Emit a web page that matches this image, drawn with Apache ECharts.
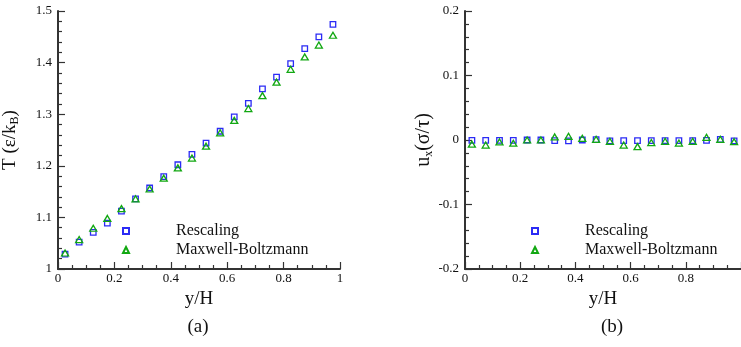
<!DOCTYPE html>
<html>
<head>
<meta charset="utf-8">
<script src="https://cdn.jsdelivr.net/npm/echarts@6/dist/echarts.min.js"></script>
<style>
  html, body { margin: 0; padding: 0; background: #fff; }
  #chart { width: 741px; height: 347px; }
</style>
</head>
<body>
<div id="chart"></div>
<script>
// Bin centres across the channel height
const yOverH = [0.025, 0.075, 0.125, 0.175, 0.225, 0.275, 0.325, 0.375, 0.425, 0.475,
                0.525, 0.575, 0.625, 0.675, 0.725, 0.775, 0.825, 0.875, 0.925, 0.975];

// (a) temperature profile T (ε/k_B)
const tempRescaling = [1.029, 1.052, 1.071, 1.089, 1.112, 1.136, 1.157, 1.179, 1.202, 1.222,
                       1.244, 1.267, 1.295, 1.321, 1.349, 1.372, 1.398, 1.427, 1.450, 1.474];
const tempMaxwell   = [1.031, 1.057, 1.079, 1.098, 1.117, 1.136, 1.155, 1.176, 1.196, 1.215,
                       1.238, 1.264, 1.288, 1.311, 1.336, 1.362, 1.387, 1.411, 1.434, 1.453];

// (b) streamwise velocity u_x (σ/τ)
const velRescaling = [-0.0005, -0.0005, -0.0005, -0.0005, 0.0, 0.0, -0.001, -0.0015, 0.0, 0.0005,
                      -0.0015, -0.001, -0.001, -0.001, -0.001, -0.001, -0.001, -0.0005, 0.001, -0.0015];
const velMaxwell   = [-0.0065, -0.0078, -0.003, -0.005, 0.0, 0.0, 0.0047, 0.0057, 0.0026, 0.001,
                      -0.002, -0.0078, -0.0103, -0.004, -0.002, -0.0047, -0.002, 0.0041, 0.001, -0.0026];

const seriesNames = ['Rescaling', 'Maxwell-Boltzmann'];
const xTicks = { min: 0, max: 1, interval: 0.2 };
const tempTicks = { min: 1.0, max: 1.5, interval: 0.1 };
const velTicks = { min: -0.2, max: 0.2, interval: 0.1 };

const SERIF = "'Liberation Serif', 'Times New Roman', serif";
const AXIS_COLOR = '#333';
const BLUE = '#2b2bf5';
const GREEN = '#12a812';

function axis(ticks, minorSplit, extra) {
  return Object.assign({
    type: 'value',
    min: ticks.min,
    max: ticks.max,
    interval: ticks.interval,
    axisLine: { show: true, onZero: false, lineStyle: { color: AXIS_COLOR, width: 2 } },
    axisTick: { show: true, inside: true, length: 7, lineStyle: { color: AXIS_COLOR, width: 1.2 } },
    minorTick: { show: true, splitNumber: minorSplit, length: 4, lineStyle: { color: AXIS_COLOR, width: 1.2 } },
    splitLine: { show: false },
    axisLabel: { fontFamily: SERIF, fontSize: 13, color: '#111', margin: 6 },
    nameLocation: 'middle',
    nameTextStyle: { fontFamily: SERIF, fontSize: 19, color: '#111' }
  }, extra || {});
}

function pairs(values) {
  return yOverH.map((x, i) => [x, values[i]]);
}

function scatter(name, values, idx, isSquare) {
  return {
    name: name,
    type: 'scatter',
    xAxisIndex: idx,
    yAxisIndex: idx,
    data: pairs(values),
    symbol: isSquare ? 'rect' : 'triangle',
    symbolSize: isSquare ? [5.5, 5.5] : [7, 6],
    itemStyle: {
      color: 'rgba(255,255,255,0)',
      borderColor: isSquare ? BLUE : GREEN,
      borderWidth: 1.3,
      opacity: 1
    },
    emphasis: { disabled: true },
    z: isSquare ? 2 : 3
  };
}

function legend(left) {
  return {
    data: seriesNames,
    orient: 'vertical',
    left: left,
    top: 218,
    itemWidth: 6,
    itemHeight: 6,
    itemGap: 3,
    selectedMode: false,
    textStyle: { fontFamily: SERIF, fontSize: 16, color: '#111', padding: [0, 0, 0, 42] }
  };
}

const xLabel = { fontFamily: SERIF, fontSize: 13, color: '#111', margin: 3 };

const chart = echarts.init(document.getElementById('chart'), null, { renderer: 'canvas' });

chart.setOption({
  animation: false,
  backgroundColor: '#fff',
  grid: [
    { left: 56, top: 11, width: 284, height: 258 },
    { left: 465, top: 11, width: 280, height: 258 }
  ],
  xAxis: [
    axis(xTicks, 4, { gridIndex: 0, name: 'y/H', nameGap: 13, axisLabel: xLabel }),
    axis(xTicks, 4, { gridIndex: 1, name: 'y/H', nameGap: 13, axisLabel: Object.assign({ showMaxLabel: false }, xLabel) })
  ],
  yAxis: [
    axis(tempTicks, 5, {
      gridIndex: 0,
      name: 'T (ε/k{s|B})',
      nameGap: 37,
      nameTextStyle: {
        fontFamily: SERIF, fontSize: 19, color: '#111',
        rich: { s: { fontFamily: SERIF, fontSize: 12, color: '#111', padding: [9, 0, 0, 0] } }
      }
    }),
    axis(velTicks, 5, {
      gridIndex: 1,
      name: 'u{s|x}(σ/τ)',
      nameGap: 26,
      nameTextStyle: {
        fontFamily: SERIF, fontSize: 20, color: '#111',
        rich: { s: { fontFamily: SERIF, fontSize: 12, color: '#111', padding: [9, 0, 0, 0] } }
      }
    })
  ],
  legend: [legend(117), legend(526)],
  series: [
    scatter(seriesNames[0], tempRescaling, 0, true),
    scatter(seriesNames[1], tempMaxwell, 0, false),
    scatter(seriesNames[0], velRescaling, 1, true),
    scatter(seriesNames[1], velMaxwell, 1, false)
  ],
  graphic: [
    { type: 'text', x: 198, y: 327, style: { text: '(a)', font: '19px ' + SERIF, fill: '#111', align: 'center', verticalAlign: 'middle' } },
    { type: 'text', x: 612, y: 327, style: { text: '(b)', font: '19px ' + SERIF, fill: '#111', align: 'center', verticalAlign: 'middle' } }
  ]
});
</script>
</body>
</html>
